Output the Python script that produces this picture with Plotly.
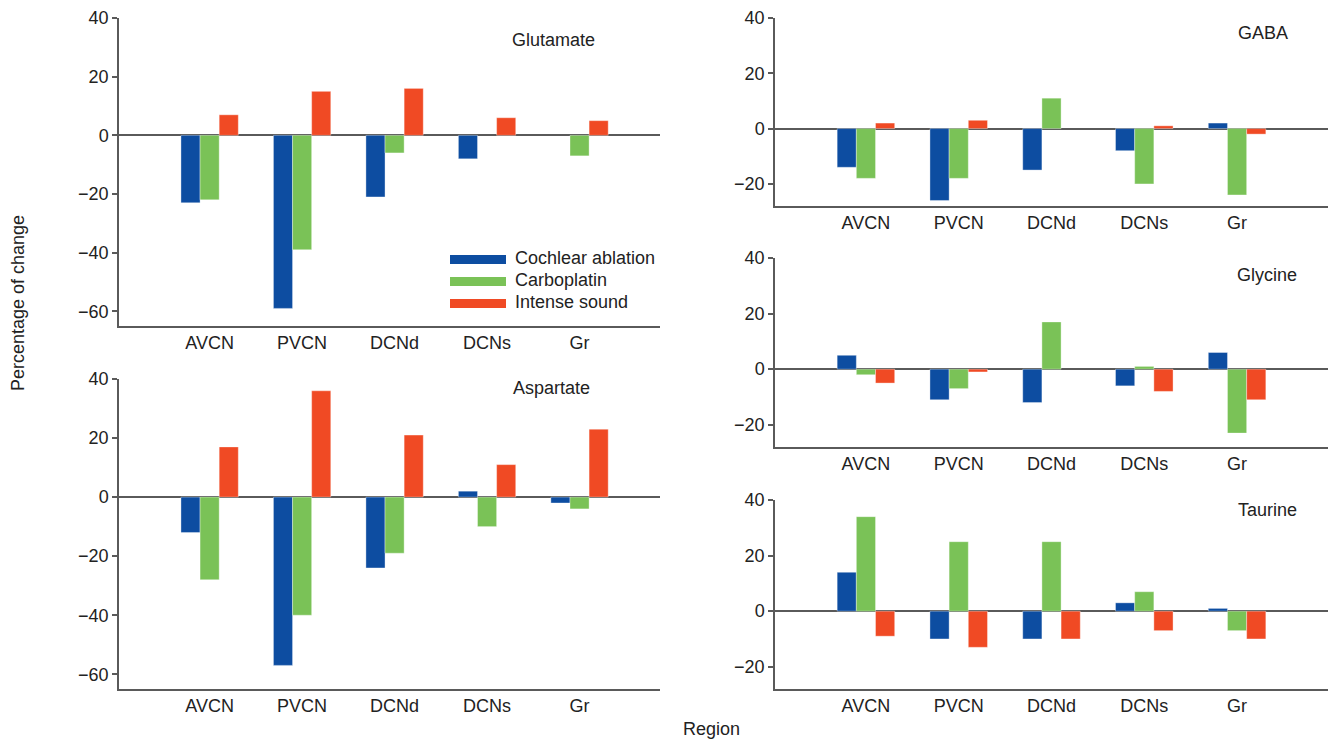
import plotly.graph_objects as go

regions = ["AVCN", "PVCN", "DCNd", "DCNs", "Gr"]
series_names = ["Cochlear ablation", "Carboplatin", "Intense sound"]

glutamate_ablation = [-23, -59, -21, -8, None]
glutamate_carbo = [-22, -39, -6, None, -7]
glutamate_sound = [7, 15, 16, 6, 5]

aspartate_ablation = [-12, -57, -24, 2, -2]
aspartate_carbo = [-28, -40, -19, -10, -4]
aspartate_sound = [17, 36, 21, 11, 23]

gaba_ablation = [-14, -26, -15, -8, 2]
gaba_carbo = [-18, -18, 11, -20, -24]
gaba_sound = [2, 3, None, 1, -2]

glycine_ablation = [5, -11, -12, -6, 6]
glycine_carbo = [-2, -7, 17, 1, -23]
glycine_sound = [-5, -1, None, -8, -11]

taurine_ablation = [14, -10, -10, 3, 1]
taurine_carbo = [34, 25, 25, 7, -7]
taurine_sound = [-9, -13, -10, -7, -10]

colors = ["#0D4DA1", "#7AC257", "#F04A24"]
W, H = 1333, 740

def px_x(p):
    return p / W

def px_y(p):
    return 1 - p / H

panels = [
    ("Glutamate", [glutamate_ablation, glutamate_carbo, glutamate_sound],
     (119, 660), (18, 326), [-65, 40], [-0.98, 4.87], (553, 40)),
    ("Aspartate", [aspartate_ablation, aspartate_carbo, aspartate_sound],
     (119, 660), (379, 689), [-65, 40], [-0.98, 4.87], (551, 388)),
    ("GABA", [gaba_ablation, gaba_carbo, gaba_sound],
     (775, 1328), (18, 206), [-28, 40], [-0.98, 4.98], (1263, 33)),
    ("Glycine", [glycine_ablation, glycine_carbo, glycine_sound],
     (775, 1328), (258, 447), [-28, 40], [-0.98, 4.98], (1267, 275)),
    ("Taurine", [taurine_ablation, taurine_carbo, taurine_sound],
     (775, 1328), (500, 689), [-28, 40], [-0.98, 4.98], (1267, 510)),
]

fig = go.Figure()
annotations = []
font_family = "Liberation Sans, Arial, sans-serif"
axis_color = "#5a5a5a"
text_color = "#222222"
tick_size = 18

for i, (name, data, xr, yr, yrange, xrange_, tpos) in enumerate(panels):
    idx = "" if i == 0 else str(i + 1)
    for s, vals in enumerate(data):
        fig.add_trace(go.Bar(
            x=regions, y=vals, name=series_names[s],
            marker=dict(color=colors[s], line=dict(width=0.6, color="rgba(255,255,255,0.6)")),
            showlegend=False,
            xaxis="x" + idx, yaxis="y" + idx,
        ))
    fig.layout["xaxis" + idx] = dict(
        domain=[px_x(xr[0]), px_x(xr[1])],
        anchor="y" + idx,
        type="category",
        range=xrange_,
        showline=True, linecolor=axis_color, linewidth=1.5,
        ticks="", showgrid=False, zeroline=False,
        tickfont=dict(size=tick_size, color=text_color, family=font_family),
        automargin=False, fixedrange=True,
    )
    fig.layout["yaxis" + idx] = dict(
        domain=[px_y(yr[1]), px_y(yr[0])],
        anchor="x" + idx,
        range=yrange,
        dtick=20, tick0=0,
        showline=True, linecolor=axis_color, linewidth=1.5,
        ticks="outside", ticklen=5, tickcolor=axis_color, tickwidth=1.5,
        showgrid=False,
        zeroline=True, zerolinecolor=axis_color, zerolinewidth=1.5,
        tickfont=dict(size=tick_size, color=text_color, family=font_family),
        automargin=False, fixedrange=True,
    )
    annotations.append(dict(
        text=name, x=px_x(tpos[0]), y=px_y(tpos[1]), xref="paper", yref="paper",
        xanchor="center", yanchor="middle", showarrow=False,
        font=dict(size=18, color=text_color, family=font_family),
    ))

# Legend drawn inside the Glutamate panel
shapes = []
legend_rows = [259.5, 281.5, 303.5]
for s, yc in enumerate(legend_rows):
    shapes.append(dict(
        type="rect", xref="paper", yref="paper",
        x0=px_x(450), x1=px_x(506), y0=px_y(yc + 4.5), y1=px_y(yc - 4.5),
        fillcolor=colors[s], line=dict(width=0),
    ))
    annotations.append(dict(
        text=series_names[s], x=px_x(513), y=px_y(yc - 2), xref="paper", yref="paper",
        xanchor="left", yanchor="middle", showarrow=False,
        font=dict(size=18, color=text_color, family=font_family),
    ))

annotations.append(dict(
    text="Percentage of change", x=px_x(18), y=px_y(303), xref="paper", yref="paper",
    xanchor="center", yanchor="middle", textangle=-90, showarrow=False,
    font=dict(size=18, color=text_color, family=font_family),
))
annotations.append(dict(
    text="Region", x=px_x(712), y=px_y(729), xref="paper", yref="paper",
    xanchor="center", yanchor="middle", showarrow=False,
    font=dict(size=18, color=text_color, family=font_family),
))

fig.update_layout(
    width=W, height=H,
    margin=dict(l=0, r=0, t=0, b=0, autoexpand=False),
    paper_bgcolor="white", plot_bgcolor="white",
    barmode="group", bargap=0.38, bargroupgap=0,
    annotations=annotations, shapes=shapes,
    showlegend=False,
)

fig.write_html(
    "out.html",
    config={"displayModeBar": False},
    post_script="document.body.style.margin='0px';document.body.style.overflow='hidden';",
)
